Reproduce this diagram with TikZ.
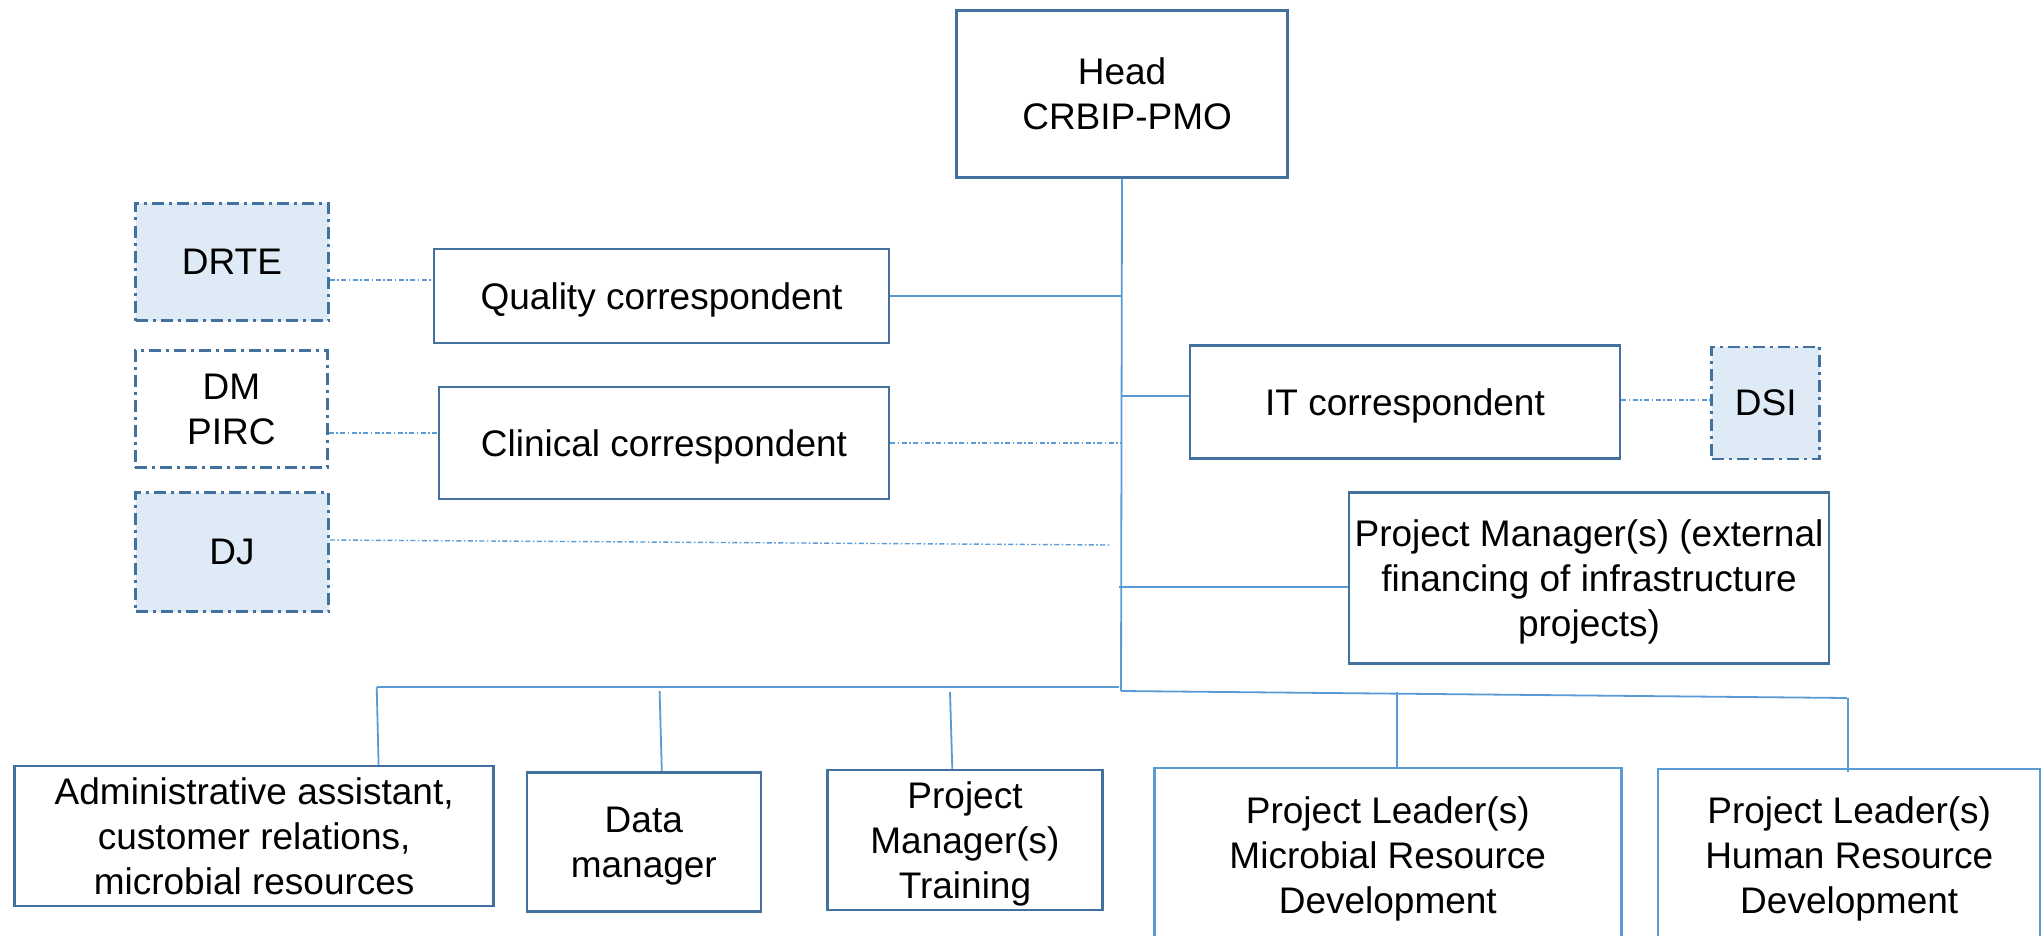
\documentclass[tikz,border=0pt]{standalone}
\usepackage{fontspec}
\setmainfont{Liberation Sans}
\usetikzlibrary{calc}
\definecolor{bdark}{HTML}{41719C}
\definecolor{blight}{HTML}{5B9BD5}
\definecolor{bfill}{HTML}{DEEBF7}
\begin{document}
\begin{tikzpicture}[x=1pt,y=-1pt,
  box/.style={draw=bdark, line width=2.5pt, fill=white, inner sep=0pt, align=center, text depth=0pt, font=\fontsize{37}{45}\selectfont},
  dbox/.style={box, dash pattern=on 12pt off 5pt on 3pt off 5pt, fill=bfill},
  lbox/.style={box, draw=blight},
  link/.style={draw=blight, line width=1.8pt},
  dlink/.style={draw=blight, line width=1.4pt, dash pattern=on 5pt off 2.5pt on 1.5pt off 2.5pt}]
\useasboundingbox[fill=white] (0,0) rectangle (2044,936);
\clip (0,0) rectangle (2044,936);

% nodes
\node[box, text depth=-8pt, minimum width=331pt, minimum height=167pt] (head) at (1122,94) {Head\\~CRBIP-PMO};
\node[dbox, minimum width=193pt, minimum height=117pt] (drte) at (232,262) {DRTE};
\node[box, minimum width=455pt, minimum height=94pt] (quality) at (661.6,296) {Quality correspondent};
\node[dbox, fill=white, minimum width=192pt, minimum height=117pt] (dm) at (231.4,409) {DM\\PIRC};
\node[box, minimum width=450pt, minimum height=112pt] (clinical) at (664,443) {Clinical correspondent};
\node[dbox, minimum width=193pt, minimum height=119pt] (dj) at (232,552) {DJ};
\node[box, minimum width=430pt, minimum height=113pt] (it) at (1405,402) {IT correspondent};
\node[dbox, minimum width=108pt, minimum height=112pt] (dsi) at (1765.7,402.8) {DSI};
\node[box, minimum width=480pt, minimum height=171pt] (pmext) at (1589,578) {Project Manager(s) (external\\financing of infrastructure\\projects)};
\node[box, minimum width=479pt, minimum height=140pt] (admin) at (254.2,836) {Administrative assistant,\\customer relations,\\microbial resources};
\node[box, minimum width=234pt, minimum height=139pt] (data) at (643.8,841.8) {Data\\manager};
\node[box, minimum width=275pt, minimum height=140pt] (pmt) at (965,840) {Project\\Manager(s)\\Training};
\node[lbox, minimum width=467pt, minimum height=174pt] (plm) at (1387.8,855) {Project Leader(s)\\Microbial Resource\\Development};
\node[lbox, minimum width=382pt, minimum height=172pt] (plh) at (1849.2,855) {Project Leader(s)\\Human Resource\\Development};

% trunk and bus coordinates
\coordinate (tbot) at (1121,691);
\coordinate (busL) at (376.7,687);
\coordinate (busLend) at (1118.5,687);
\coordinate (busR) at (1847,698);
\coordinate (djend) at (1110.7,545);
\coordinate (itjoin) at (1121,396);
\coordinate (pmjoin) at (1118.5,586.6);

% solid connectors
\draw[link] (head.south) -- (tbot);
\draw[link] (quality.east) -- (quality.east -| head.south);
\draw[link] (itjoin) -- (itjoin -| it.west);
\draw[link] (pmjoin) -- (pmjoin -| pmext.west);
\draw[link] (busL) -- (busLend);
\draw[link] (tbot) -- (busR);
\draw[link] (busL) -- (admin.north -| 378.6,0);
\draw[link] (659.6,691) -- (data.north -| 661.8,0);
\draw[link] (950,692) -- (pmt.north -| 952.3,0);
\draw[link] (1396.8,691.7) -- (plm.north -| 1396.8,0);
\draw[link] (1847.8,698) -- (1847.8,772);

% dash-dot connectors
\draw[dlink] (drte.east) ++(0,18) coordinate (a1) -- (a1 -| quality.west);
\draw[dlink] (dm.east) ++(0,24) coordinate (a2) -- (a2 -| clinical.west);
\draw[dlink] (clinical.east) -- (clinical.east -| head.south);
\draw[dlink] (dj.east) ++(0,-12) coordinate (a3) -- (djend);
\draw[dlink] (it.east) ++(0,-2) coordinate (a4) -- (a4 -| dsi.west);
\end{tikzpicture}
\end{document}
